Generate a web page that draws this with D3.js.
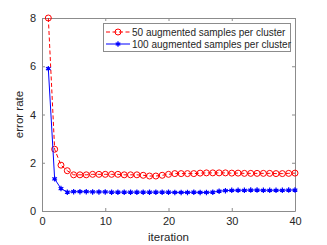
<!DOCTYPE html>
<html>
<head>
<meta charset="utf-8">
<script src="https://cdn.jsdelivr.net/npm/d3@7"></script>
<style>
  body { margin: 0; background: #fff; }
  text { font-family: "Liberation Sans", Arial, sans-serif; fill: #262626; }
</style>
</head>
<body>
<div id="chart"></div>
<script>
var vWidth = 327;
var vHeight = 245;

// data
var iterations = d3.range(1, 41);
var err50 = [8.0, 2.56, 1.9, 1.67, 1.5, 1.5, 1.5, 1.52, 1.52, 1.52,
             1.52, 1.52, 1.5, 1.5, 1.5, 1.48, 1.45, 1.45, 1.48, 1.52,
             1.55, 1.55, 1.55, 1.55, 1.57, 1.58, 1.58, 1.58, 1.58, 1.57,
             1.57, 1.56, 1.56, 1.56, 1.56, 1.56, 1.55, 1.55, 1.56, 1.57];
var err100 = [5.9, 1.33, 0.93, 0.78, 0.8, 0.8, 0.8, 0.79, 0.79, 0.79,
              0.78, 0.78, 0.78, 0.78, 0.78, 0.78, 0.78, 0.78, 0.78, 0.78,
              0.77, 0.77, 0.77, 0.78, 0.77, 0.77, 0.78, 0.82, 0.84, 0.86,
              0.86, 0.86, 0.87, 0.87, 0.86, 0.86, 0.86, 0.86, 0.87, 0.87];
var xTicks = [0, 10, 20, 30, 40];
var yTicks = [0, 2, 4, 6, 8];
var seriesNames = ["50 augmented samples per cluster", "100 augmented samples per cluster"];

// plot box (window.top is reserved, so use other names)
var pLeft = 42, pRight = 295, pTop = 18, pBottom = 211;

var svg = d3.select("#chart")
    .append("svg")
    .attr("width", vWidth)
    .attr("height", vHeight);

var x = d3.scaleLinear().domain([0, 40]).range([pLeft, pRight]);
var y = d3.scaleLinear().domain([0, 8]).range([pBottom, pTop]);

// axes with inward ticks, MATLAB style box
var axisColor = "#8c8c8c";
var gx = svg.append("g").attr("transform", "translate(0," + pBottom + ")")
    .call(d3.axisBottom(x).tickValues(xTicks).tickSizeInner(-3).tickSizeOuter(0).tickPadding(6));
var gy = svg.append("g").attr("transform", "translate(" + pLeft + ",0)")
    .call(d3.axisLeft(y).tickValues(yTicks).tickSizeInner(-3).tickSizeOuter(0).tickPadding(6));
var gt = svg.append("g").attr("transform", "translate(0," + pTop + ")")
    .call(d3.axisTop(x).tickValues(xTicks).tickSizeInner(-3).tickSizeOuter(0).tickFormat(""));
var gr = svg.append("g").attr("transform", "translate(" + pRight + ",0)")
    .call(d3.axisRight(y).tickValues(yTicks).tickSizeInner(-3).tickSizeOuter(0).tickFormat(""));

[gx, gy, gt, gr].forEach(function (g) {
    g.selectAll("path, line").attr("stroke", axisColor);
    g.selectAll("text").attr("font-size", 11).attr("fill", "#262626")
        .attr("font-family", "Liberation Sans, Arial, sans-serif");
});

svg.append("text")
    .attr("x", (pLeft + pRight) / 2)
    .attr("y", 241)
    .attr("text-anchor", "middle")
    .attr("font-size", 11.5)
    .text("iteration");

svg.append("text")
    .attr("transform", "translate(23," + ((pTop + pBottom) / 2) + ") rotate(-90)")
    .attr("text-anchor", "middle")
    .attr("font-size", 11.5)
    .text("error rate");

var line = d3.line()
    .x(function (d, i) { return x(iterations[i]); })
    .y(function (d) { return y(d); });

// 50 samples: red dashed, open circles
svg.append("path")
    .datum(err50)
    .attr("d", line)
    .attr("fill", "none")
    .attr("stroke", "#ff0000")
    .attr("stroke-width", 1)
    .attr("stroke-dasharray", "4,2.5");

svg.append("g").selectAll("circle")
    .data(err50).enter().append("circle")
    .attr("cx", function (d, i) { return x(iterations[i]); })
    .attr("cy", function (d) { return y(d); })
    .attr("r", 3)
    .attr("fill", "none")
    .attr("stroke", "#ff0000")
    .attr("stroke-width", 1);

// 100 samples: blue solid, asterisk with a dot in the middle
svg.append("path")
    .datum(err100)
    .attr("d", line)
    .attr("fill", "none")
    .attr("stroke", "#0000ff")
    .attr("stroke-width", 1);

var star = d3.symbol().type(d3.symbolAsterisk).size(20);
function blueMarker(sel) {
    sel.append("path")
        .attr("d", star)
        .attr("fill", "none")
        .attr("stroke", "#0000ff")
        .attr("stroke-width", 1.2);
    sel.append("circle")
        .attr("r", 1.6)
        .attr("fill", "#0000ff");
}
svg.append("g").selectAll("g")
    .data(err100).enter().append("g")
    .attr("transform", function (d, i) { return "translate(" + x(iterations[i]) + "," + y(d) + ")"; })
    .call(blueMarker);

// legend
var legend = svg.append("g");
legend.append("rect")
    .attr("x", 103.5).attr("y", 23.5)
    .attr("width", 187).attr("height", 28)
    .attr("fill", "#fff")
    .attr("stroke", axisColor);

var ly = [32, 44];
legend.append("line")
    .attr("x1", 106).attr("x2", 130).attr("y1", ly[0]).attr("y2", ly[0])
    .attr("stroke", "#ff0000").attr("stroke-dasharray", "4,2.5");
legend.append("circle")
    .attr("cx", 118).attr("cy", ly[0]).attr("r", 3)
    .attr("fill", "none").attr("stroke", "#ff0000");
legend.append("line")
    .attr("x1", 106).attr("x2", 130).attr("y1", ly[1]).attr("y2", ly[1])
    .attr("stroke", "#0000ff");
legend.append("g")
    .attr("transform", "translate(118," + ly[1] + ")")
    .call(blueMarker);

legend.selectAll("text.lab")
    .data(seriesNames).enter().append("text")
    .attr("class", "lab")
    .attr("x", 132)
    .attr("y", function (d, i) { return ly[i] + 4; })
    .attr("font-size", 10)
    .text(function (d) { return d; });
</script>
</body>
</html>
